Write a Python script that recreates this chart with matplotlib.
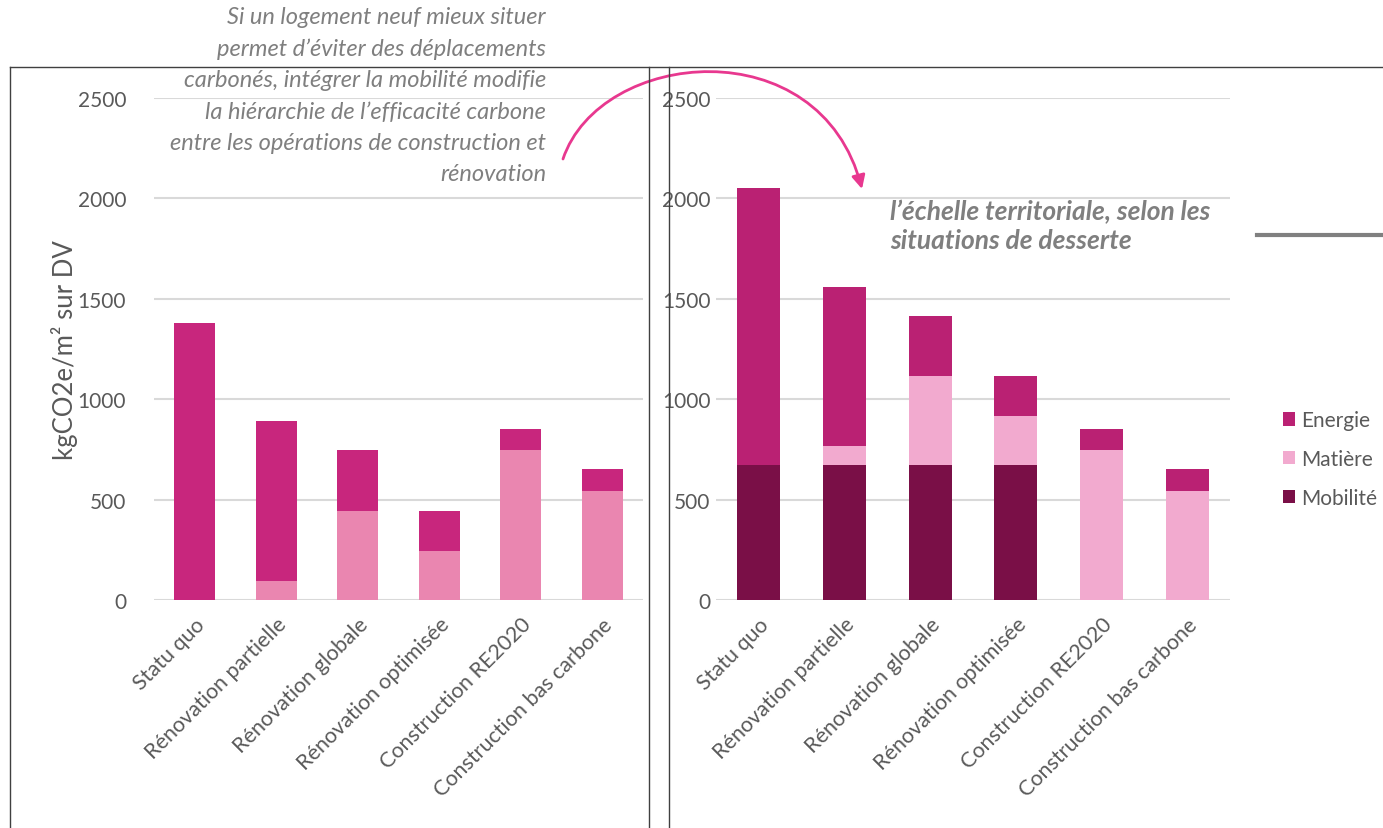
import matplotlib.pyplot as plt
from matplotlib.lines import Line2D
from matplotlib.patches import FancyArrowPatch
from matplotlib.path import Path

plt.rcParams['font.family'] = ['Lato', 'DejaVu Sans']

categories = ["Statu quo", "Rénovation partielle", "Rénovation globale",
              "Rénovation optimisée", "Construction RE2020", "Construction bas carbone"]
energie = [1380, 795, 300, 200, 105, 105]
matiere = [0, 95, 445, 245, 745, 545]
mobilite = [670, 670, 670, 670, 0, 0]

W, H = 1383, 829
fig = plt.figure(figsize=(W / 100, H / 100), dpi=100)


def fx(px):
    return px / W


def fy(py):
    return 1 - py / H


txt = '#595959'
grid = '#D9D9D9'


def style(ax, pad):
    ax.set_ylim(0, 2500)
    ax.set_xlim(-0.5, len(categories) - 0.5)
    ax.set_yticks([0, 500, 1000, 1500, 2000, 2500])
    ax.yaxis.grid(True, color=grid, lw=1.5)
    ax.set_axisbelow(True)
    for s in ax.spines.values():
        s.set_visible(False)
    ax.tick_params(axis='both', length=0, colors=txt)
    ax.tick_params(axis='y', pad=pad, labelsize=15)
    ax.tick_params(axis='x', pad=10)
    ax.set_xticks(range(len(categories)))
    ax.set_xticklabels(categories, rotation=45, ha='right', rotation_mode='anchor', fontsize=15.5)


x = list(range(len(categories)))
bw = 0.5

# left panel: without mobility
ax1 = fig.add_axes([fx(154), fy(601), fx(643) - fx(154), fy(99) - fy(601)])
ax1.bar(x, matiere, bw, color='#EA86B0')
ax1.bar(x, energie, bw, bottom=matiere, color='#C8267D')
style(ax1, 20)
ax1.set_ylabel('kgCO2e/m² sur DV', color=txt, fontsize=18.5, labelpad=0)

# right panel: with mobility
ax2 = fig.add_axes([fx(716), fy(601), fx(1230) - fx(716), fy(99) - fy(601)])
b2 = [m + a for m, a in zip(mobilite, matiere)]
h_mob = ax2.bar(x, mobilite, bw, color='#7A0F47')
h_mat = ax2.bar(x, matiere, bw, bottom=mobilite, color='#F2AACF')
h_en = ax2.bar(x, energie, bw, bottom=b2, color='#BA2173')
style(ax2, 4)

leg = fig.legend([h_en, h_mat, h_mob], ['Energie', 'Matière', 'Mobilité'],
                 loc='center left', bbox_to_anchor=(fx(1264), fy(460)),
                 frameon=False, fontsize=15, handlelength=0.6, handleheight=0.6,
                 handletextpad=0.3, labelspacing=0.9, labelcolor=txt)

# frame lines
lc = '#404040'
fig.add_artist(Line2D([fx(10), 1], [fy(68), fy(68)], color=lc, lw=1))
for px in (10, 649, 669):
    fig.add_artist(Line2D([fx(px), fx(px)], [fy(68), 0], color=lc, lw=1))
fig.add_artist(Line2D([fx(1257), 1], [fy(236), fy(236)], color='#808080', lw=3))

# annotations
note = ("Si un logement neuf mieux situer\n"
        "permet d’éviter des déplacements\n"
        "carbonés, intégrer la mobilité modifie\n"
        "la hiérarchie de l’efficacité carbone\n"
        "entre les opérations de construction et\n"
        "rénovation")
fig.text(fx(546), fy(7), note, ha='right', va='top', style='italic',
         color='#7F7F7F', fontsize=17, linespacing=1.6)
fig.text(fx(890), fy(200), "l’échelle territoriale, selon les\nsituations de desserte",
         ha='left', va='top', style='italic', weight='bold',
         color='#7F7F7F', fontsize=19, linespacing=1.25)

pts = [(563, 160), (600, 50), (820, 28), (862, 190)]
path = Path([(fx(a), fy(b)) for a, b in pts],
            [Path.MOVETO, Path.CURVE4, Path.CURVE4, Path.CURVE4])
arrow = FancyArrowPatch(path=path, arrowstyle='-|>,head_length=8,head_width=4',
                        color='#E8388F', lw=2, transform=fig.transFigure)
fig.add_artist(arrow)

fig.savefig('out.png', dpi=100)
